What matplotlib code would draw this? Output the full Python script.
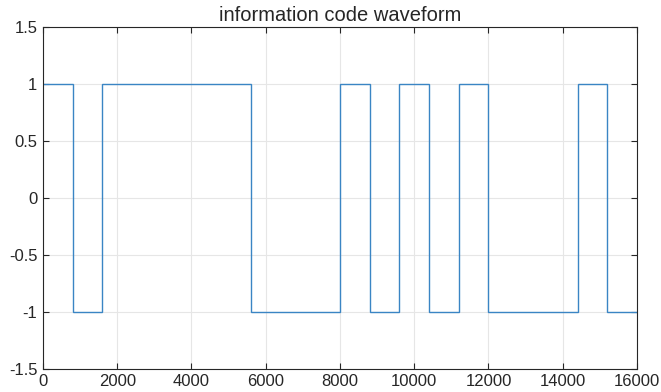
import numpy as np
import matplotlib.pyplot as plt

# information bits, each held for 800 samples
bits = [1, -1, 1, 1, 1, 1, 1, -1, -1, -1, 1, -1, 1, -1, 1, -1, -1, -1, 1, -1]
samples_per_bit = 800
xticks = [0, 2000, 4000, 6000, 8000, 10000, 12000, 14000, 16000]
yticks = [-1.5, -1, -0.5, 0, 0.5, 1, 1.5]
ytick_labels = ['-1.5', '-1', '-0.5', '0', '0.5', '1', '1.5']

plt.rcParams['font.family'] = ['Liberation Sans', 'DejaVu Sans']

fig = plt.figure(figsize=(6.61, 3.92), dpi=100)
ax = fig.add_axes([0.065, 0.059, 0.8987, 0.872])

edges = np.arange(len(bits) + 1) * samples_per_bit
ax.stairs(bits, edges, color='#3a85c4', linewidth=1.0, baseline=None)

ax.set_xlim(0, 16000)
ax.set_ylim(-1.5, 1.5)
ax.set_xticks(xticks)
ax.set_yticks(yticks)
ax.set_yticklabels(ytick_labels)
ax.tick_params(direction='in', top=True, right=True, labelsize=12, length=4,
               width=0.8, colors='#262626', pad=4)
ax.grid(True, color='#e6e6e6', linewidth=0.8)
ax.set_axisbelow(True)
for s in ax.spines.values():
    s.set_color('#262626')
    s.set_linewidth(0.8)

ax.set_title('information code waveform', fontsize=14.5, color='#262626', pad=4)

fig.savefig('out.png', dpi=100)
